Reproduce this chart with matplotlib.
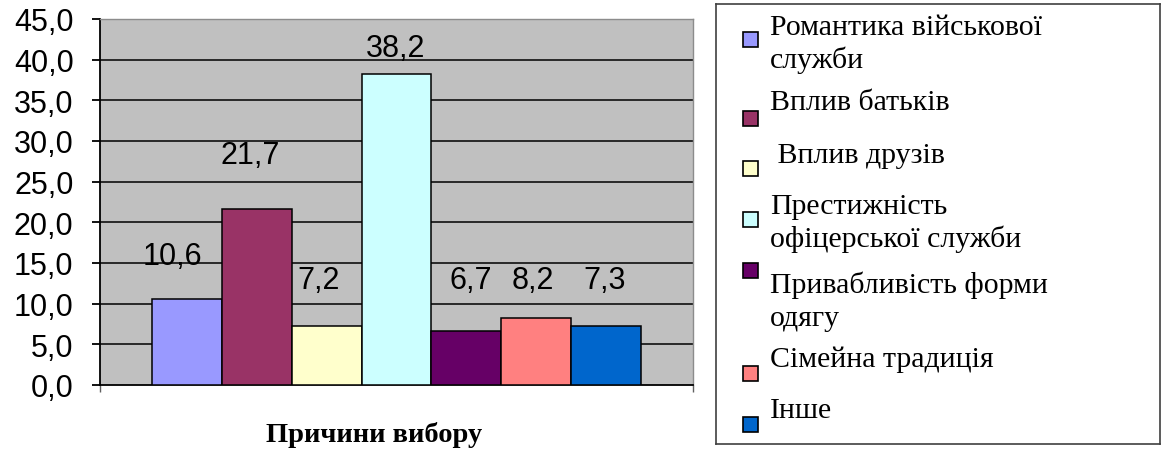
import matplotlib
matplotlib.use("Agg")
import matplotlib.pyplot as plt
from matplotlib.patches import Rectangle

# ---- data ----
categories = [
    "Романтика військової\nслужби",
    "Вплив батьків",
    " Вплив друзів",
    "Престижність\nофіцерської служби",
    "Привабливість форми\nодягу",
    "Сімейна традиція",
    "Інше",
]
values = [10.6, 21.7, 7.2, 38.2, 6.7, 8.2, 7.3]
value_labels = ["10,6", "21,7", "7,2", "38,2", "6,7", "8,2", "7,3"]
colors = ["#9999FF", "#993366", "#FFFFCC", "#CCFFFF", "#660066", "#FF8080", "#0066CC"]
yticks = [0, 5, 10, 15, 20, 25, 30, 35, 40, 45]
ytick_labels = ["0,0", "5,0", "10,0", "15,0", "20,0", "25,0", "30,0", "35,0", "40,0", "45,0"]
xlabel = "Причини вибору"

# label placement (as in the original Excel chart)
label_dx = [-0.21, -0.10, -0.12, -0.01, 0.06, -0.04, -0.02]
label_y = [15.9, 28.3, 12.9, 41.4, 12.9, 12.9, 12.9]

W, H = 1168, 452
fig = plt.figure(figsize=(W / 100, H / 100), dpi=100)

px = lambda x0, y0, x1, y1: [x0 / W, 1 - y1 / H, (x1 - x0) / W, (y1 - y0) / H]

ax = fig.add_axes(px(100, 20, 693, 386))
ax.set_facecolor("#C0C0C0")
xs = list(range(len(values)))
ax.bar(xs, values, width=1.0, color=colors, edgecolor="black", linewidth=1.1, zorder=3)
ax.set_xlim(-1.25, len(values) + 0.25)
ax.set_ylim(0, 45)
for g in yticks[1:-1]:
    ax.axhline(g, color="black", linewidth=1.1, zorder=1)

ax.set_yticks(yticks)
ax.set_yticklabels(ytick_labels, family="Liberation Sans", fontsize=22)
ax.tick_params(axis="y", direction="out", length=6, width=1.3, pad=13, color="black")
ax.set_xticks([-1.25, len(values) + 0.25])
ax.set_xticklabels(["", ""])
ax.tick_params(axis="x", direction="out", length=5, width=1.0, color="#606060")
for s in ["top", "right"]:
    ax.spines[s].set_color("#8C8C8C")
    ax.spines[s].set_linewidth(1.0)
for s in ["left", "bottom"]:
    ax.spines[s].set_color("black")
    ax.spines[s].set_linewidth(1.3)

for i, (lbl, dx, ly) in enumerate(zip(value_labels, label_dx, label_y)):
    ax.text(i + dx, ly, lbl, ha="center", va="center", family="Liberation Sans",
            fontsize=22, color="black", zorder=4)

fig.text(374 / W, 1 - 442 / H, xlabel, ha="center", va="baseline",
         family="Liberation Serif", fontweight="bold", fontsize=20.5)

# ---- legend box ----
lx0, ly0, lx1, ly1 = 716, 5, 1160, 445
lax = fig.add_axes(px(lx0, ly0, lx1, ly1))
lax.set_xlim(0, lx1 - lx0)
lax.set_ylim(ly1 - ly0, 0)
lax.set_xticks([])
lax.set_yticks([])
for s in lax.spines.values():
    s.set_color("#404040")
    s.set_linewidth(1.2)

marker_cy = [35, 114, 164, 215, 266, 369, 420]
text_base = [30, 105, 158, 209, 288, 362, 413]
line_gap = 33
msize = 15
for name, c, my, tb in zip(categories, colors, marker_cy, text_base):
    lax.add_patch(Rectangle((27, my - msize / 2), msize, msize, facecolor=c,
                            edgecolor="black", linewidth=1.2))
    for k, line in enumerate(name.split("\n")):
        lax.text(54, tb + k * line_gap, line, ha="left", va="baseline",
                 family="Liberation Serif", fontsize=21.5, color="black")

fig.savefig("out.png", dpi=100)
